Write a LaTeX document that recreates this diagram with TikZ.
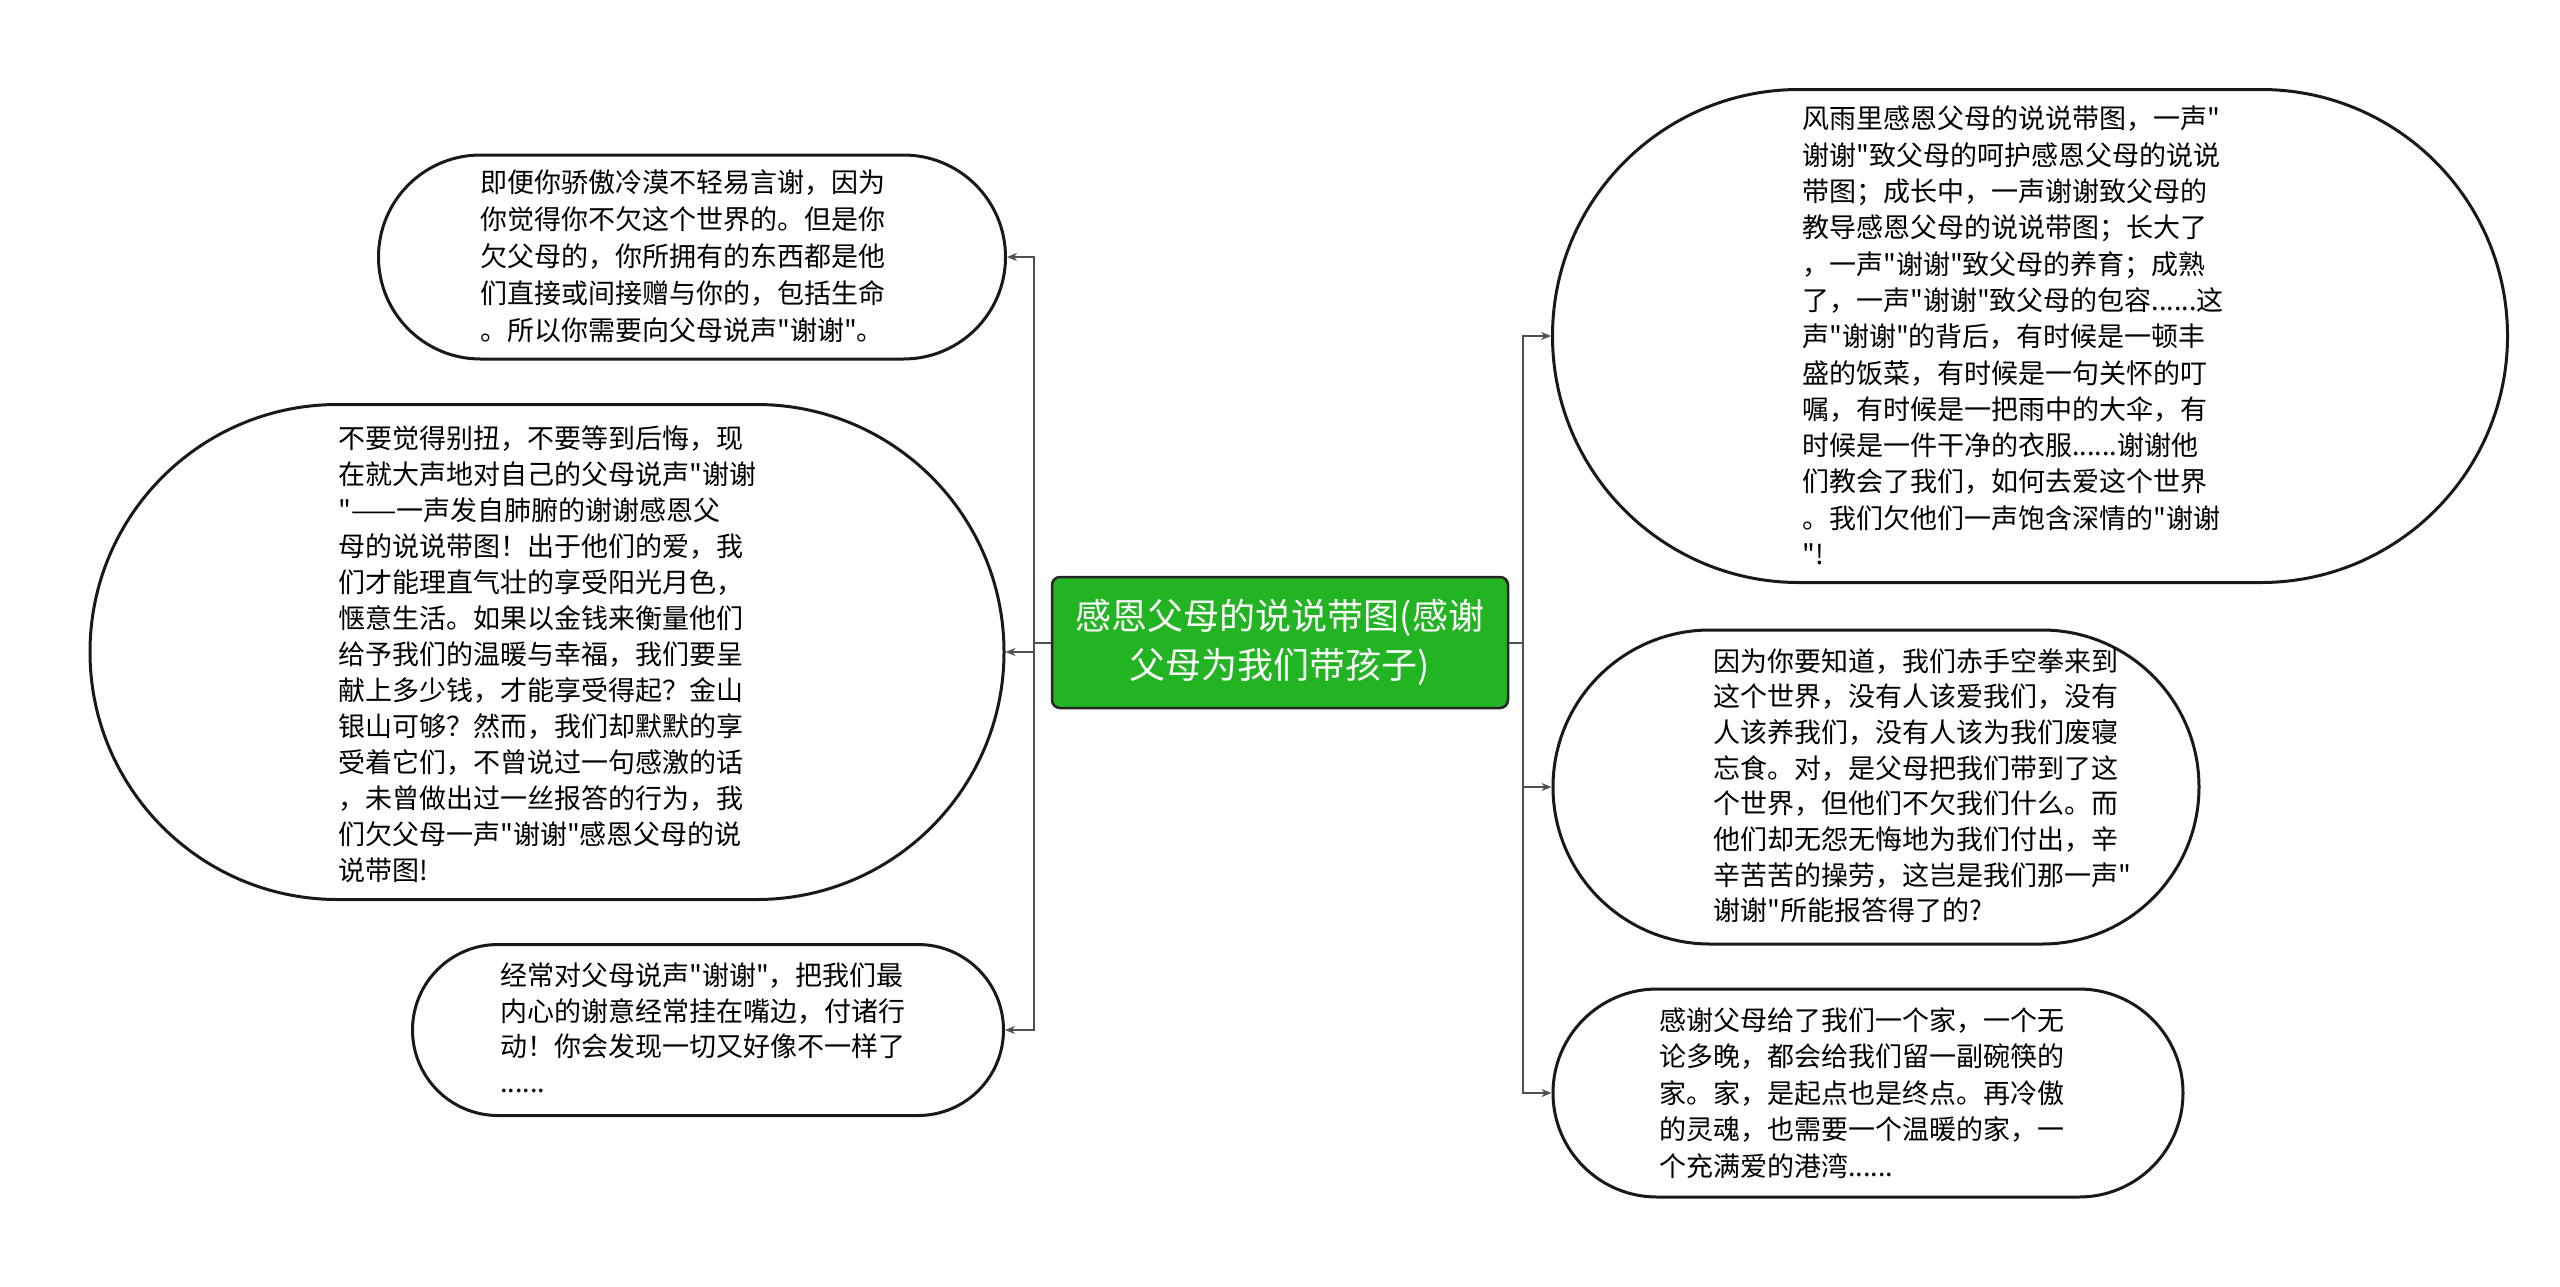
\documentclass[tikz,border=0pt]{standalone}
\usepackage{fontspec}
\setmainfont{Noto Sans CJK SC}[Ligatures=TeXOff]
\usetikzlibrary{shapes.misc,arrows.meta}
\definecolor{rootgreen}{RGB}{34,180,34}
\definecolor{linegray}{RGB}{80,80,80}
\tikzset{
  bub/.style={draw=black!90, line width=3pt, rounded rectangle, inner sep=0pt},
  root/.style={draw=black!85, line width=2.5pt, fill=rootgreen, rounded corners=8pt, inner sep=0pt,
    text=white, align=center, font=\fontsize{36}{49}\selectfont},
  txt/.style={anchor=north west, inner sep=0pt, align=left},
  conn/.style={draw=linegray, line width=2pt, -{Stealth[length=10pt,width=8pt]}},
}
\begin{document}
\begin{tikzpicture}[x=1pt,y=-1pt]
\useasboundingbox (0,0) rectangle (2560,1286);
% bubbles
\node[bub, minimum width=627pt, minimum height=204pt] (n1) at (692,257) {};
\node[bub, minimum width=914pt, minimum height=495pt] (n2) at (547,652) {};
\node[bub, minimum width=591pt, minimum height=171pt] (n3) at (708,1030) {};
\node[bub, minimum width=955pt, minimum height=493pt] (r1) at (2030,336) {};
\node[bub, minimum width=646pt, minimum height=314pt] (r2) at (1876,787) {};
\node[bub, minimum width=630pt, minimum height=208pt] (r3) at (1868,1093) {};
% root
\node[root, minimum width=456pt, minimum height=131pt] (c) at (1280,642.5)
  {感恩父母的说说带图(感谢\\父母为我们带孩子)};
% texts
\node[txt, font=\fontsize{27}{37}\selectfont] (t1) at (480,170) {即便你骄傲冷漠不轻易言谢，因为\\
你觉得你不欠这个世界的。但是你\\
欠父母的，你所拥有的东西都是他\\
们直接或间接赠与你的，包括生命\\
。所以你需要向父母说声"谢谢"。};
\node[txt, font=\fontsize{27}{36}\selectfont] (t2) at (338,425) {不要觉得别扭，不要等到后悔，现\\
在就大声地对自己的父母说声"谢谢\\
"——一声发自肺腑的谢谢感恩父\\
母的说说带图！出于他们的爱，我\\
们才能理直气壮的享受阳光月色，\\
惬意生活。如果以金钱来衡量他们\\
给予我们的温暖与幸福，我们要呈\\
献上多少钱，才能享受得起？金山\\
银山可够？然而，我们却默默的享\\
受着它们，不曾说过一句感激的话\\
，未曾做出过一丝报答的行为，我\\
们欠父母一声"谢谢"感恩父母的说\\
说带图!};
\node[txt, font=\fontsize{27}{35.5}\selectfont] (t3) at (500,963) {经常对父母说声"谢谢"，把我们最\\
内心的谢意经常挂在嘴边，付诸行\\
动！你会发现一切又好像不一样了\\
......};
\node[txt, font=\fontsize{27}{36.3}\selectfont] (tr1) at (1802,106) {风雨里感恩父母的说说带图，一声"\\
谢谢"致父母的呵护感恩父母的说说\\
带图；成长中，一声谢谢致父母的\\
教导感恩父母的说说带图；长大了\\
，一声"谢谢"致父母的养育；成熟\\
了，一声"谢谢"致父母的包容......这\\
声"谢谢"的背后，有时候是一顿丰\\
盛的饭菜，有时候是一句关怀的叮\\
嘱，有时候是一把雨中的大伞，有\\
时候是一件干净的衣服......谢谢他\\
们教会了我们，如何去爱这个世界\\
。我们欠他们一声饱含深情的"谢谢\\
"!};
\node[txt, font=\fontsize{27}{35.7}\selectfont] (tr2) at (1713,648) {因为你要知道，我们赤手空拳来到\\
这个世界，没有人该爱我们，没有\\
人该养我们，没有人该为我们废寝\\
忘食。对，是父母把我们带到了这\\
个世界，但他们不欠我们什么。而\\
他们却无怨无悔地为我们付出，辛\\
辛苦苦的操劳，这岂是我们那一声"\\
谢谢"所能报答得了的?};
\node[txt, font=\fontsize{27}{36.5}\selectfont] (tr3) at (1659,1007) {感谢父母给了我们一个家，一个无\\
论多晚，都会给我们留一副碗筷的\\
家。家，是起点也是终点。再冷傲\\
的灵魂，也需要一个温暖的家，一\\
个充满爱的港湾......};
% connectors
\coordinate (lt) at (1034,642.5);
\coordinate (rt) at (1523,642.5);
\draw[conn] (c.west) -- (lt) |- (n1.east);
\draw[conn] (c.west) -- (lt) |- (n2.east);
\draw[conn] (c.west) -- (lt) |- (n3.east);
\draw[conn] (c.east) -- (rt) |- (r1.west);
\draw[conn] (c.east) -- (rt) |- (r2.west);
\draw[conn] (c.east) -- (rt) |- (r3.west);
\end{tikzpicture}
\end{document}
